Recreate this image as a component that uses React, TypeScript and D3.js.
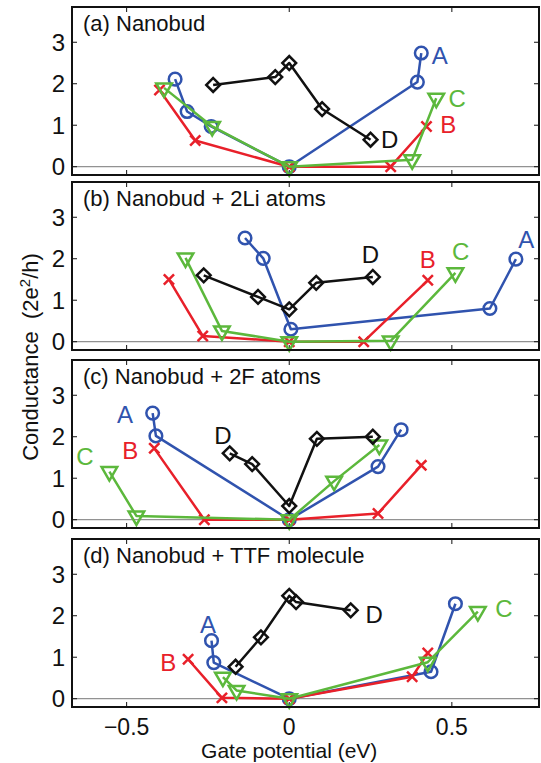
import * as d3 from 'd3'

// gate potential (eV) and conductance (2e^2/h) for the four panels, series A-D
const panelTitles = ['(a) Nanobud', '(b) Nanobud + 2Li atoms', '(c) Nanobud + 2F atoms', '(d) Nanobud + TTF molecule']
const seriesNames = ['A', 'B', 'C', 'D']
const xTicks = [-0.5, 0, 0.5]
const xTickLabels = ['\u22120.5', '0', '0.5']
const yTicks = [0, 1, 2, 3]

// panel (a)
const aX = [-0.351, -0.314, -0.24, 0, 0.394, 0.406]
const aY = [2.11, 1.33, 0.97, 0, 2.04, 2.74]
const bX_a = [-0.399, -0.289, 0, 0.312, 0.422]
const bY_a = [1.85, 0.63, 0, 0.0, 0.97]
const cX_a = [-0.385, -0.237, 0, 0.378, 0.452]
const cY_a = [1.9, 0.97, 0, 0.17, 1.65]
const dX_a = [-0.234, -0.043, 0, 0.101, 0.25]
const dY_a = [1.97, 2.16, 2.5, 1.39, 0.65]

// panel (b)
const aX_b = [-0.136, -0.08, 0.005, 0.617, 0.697]
const aY_b = [2.5, 2.01, 0.3, 0.8, 1.99]
const bX_b = [-0.37, -0.266, 0, 0.229, 0.426]
const bY_b = [1.5, 0.14, 0, 0.0, 1.48]
const cX_b = [-0.319, -0.207, 0, 0.312, 0.511]
const cY_b = [2.02, 0.26, 0, 0.02, 1.66]
const dX_b = [-0.263, -0.096, 0, 0.083, 0.257]
const dY_b = [1.6, 1.08, 0.78, 1.42, 1.56]

// panel (c)
const aX_c = [-0.42, -0.41, 0, 0.273, 0.344]
const aY_c = [2.57, 2.02, 0, 1.28, 2.17]
const bX_c = [-0.415, -0.261, 0, 0.273, 0.406]
const bY_c = [1.72, 0, 0, 0.15, 1.31]
const cX_c = [-0.553, -0.47, 0, 0.138, 0.277]
const cY_c = [1.16, 0.09, 0, 0.93, 1.8]
const dX_c = [-0.183, -0.114, 0, 0.085, 0.257]
const dY_c = [1.6, 1.34, 0.33, 1.95, 2.0]

// panel (d)
const aX_d = [-0.239, -0.232, 0, 0.436, 0.511]
const aY_d = [1.4, 0.87, 0, 0.65, 2.29]
const bX_d = [-0.311, -0.207, 0, 0.378, 0.426]
const bY_d = [0.95, 0.02, 0, 0.53, 1.1]
const cX_d = [-0.204, -0.162, 0, 0.426, 0.58]
const cY_d = [0.52, 0.2, 0, 0.88, 2.1]
const dX_d = [-0.165, -0.087, 0, 0.021, 0.189]
const dY_d = [0.77, 1.48, 2.48, 2.33, 2.13]

// where the A/B/C/D letters sit, per panel
const labelX = [
  [0.463, 0.489, 0.516, 0.309],
  [0.729, 0.426, 0.527, 0.25],
  [-0.505, -0.489, -0.628, -0.204],
  [-0.25, -0.372, 0.66, 0.261],
]
const labelY = [
  [2.68, 1.01, 1.65, 0.65],
  [2.46, 1.98, 2.18, 2.1],
  [2.55, 1.68, 1.52, 2.03],
  [1.8, 0.87, 2.18, 2.04],
]

const panelX = [
  [aX, bX_a, cX_a, dX_a],
  [aX_b, bX_b, cX_b, dX_b],
  [aX_c, bX_c, cX_c, dX_c],
  [aX_d, bX_d, cX_d, dX_d],
]
const panelY = [
  [aY, bY_a, cY_a, dY_a],
  [aY_b, bY_b, cY_b, dY_b],
  [aY_c, bY_c, cY_c, dY_c],
  [aY_d, bY_d, cY_d, dY_d],
]

const colors = ['#3053ae', '#e8202a', '#5cb83c', '#111111']
const font = '"Liberation Sans", Arial, sans-serif'

const W = 541
const H = 763
const left = 72
const right = 539
const panelTops = [7, 182, 360, 539]
const panelH = 168

const x = d3.scaleLinear().domain([-0.668, 0.768]).range([left, right])

const symbols = [
  d3.symbol().type(d3.symbolCircle).size(125),
  d3.symbol().type(d3.symbolTimes).size(70),
  d3.symbol().type(d3.symbolTriangle).size(105),
  d3.symbol().type(d3.symbolSquare).size(95),
]

function Panel({ idx }: { idx: number }) {
  const top = panelTops[idx]
  const y = d3.scaleLinear().domain([-0.2, 3.85]).range([top + panelH, top])
  const tick = 5
  return (
    <g>
      {/* zero reference line */}
      <line x1={left} x2={right} y1={y(0)} y2={y(0)} stroke="#777" strokeWidth={1} />
      {/* ticks */}
      {xTicks.map(t => (
        <g key={'xt' + t}>
          <line x1={x(t)} x2={x(t)} y1={top} y2={top + tick} stroke="#111" strokeWidth={1} />
          <line x1={x(t)} x2={x(t)} y1={top + panelH} y2={top + panelH - tick} stroke="#111" strokeWidth={1} />
        </g>
      ))}
      {yTicks.map(t => (
        <g key={'yt' + t}>
          <line x1={left} x2={left + tick} y1={y(t)} y2={y(t)} stroke="#111" strokeWidth={1} />
          <line x1={right} x2={right - tick} y1={y(t)} y2={y(t)} stroke="#111" strokeWidth={1} />
          <text x={left - 7} y={y(t)} dy="0.36em" textAnchor="end" fontSize={24} fontFamily={font} fill="#111">{t}</text>
        </g>
      ))}
      {/* series */}
      {seriesNames.map((name, s) => {
        const xs = panelX[idx][s]
        const ys = panelY[idx][s]
        const pts: [number, number][] = xs.map((v, i) => [x(v), y(ys[i])])
        const line = d3.line()(pts) || ''
        return (
          <g key={name}>
            <path d={line} fill="none" stroke={colors[s]} strokeWidth={2.5} strokeLinejoin="round" />
            {pts.map((p, i) => (
              <path
                key={i}
                d={symbols[s]() || ''}
                transform={`translate(${p[0]},${p[1]})${s === 2 ? ' rotate(180)' : s === 3 ? ' rotate(45)' : ''}`}
                fill="none"
                stroke={colors[s]}
                strokeWidth={2.5}
              />
            ))}
          </g>
        )
      })}
      {seriesNames.map((name, s) => (
        <text
          key={'lab' + name}
          x={x(labelX[idx][s])}
          y={y(labelY[idx][s])}
          dy="0.36em"
          textAnchor="middle"
          fontSize={24}
          fontFamily={font}
          fill={colors[s]}
        >
          {name}
        </text>
      ))}
      <text x={left + 11} y={top + 24} fontSize={22} fontFamily={font} fill="#111">{panelTitles[idx]}</text>
      {/* frame */}
      <rect x={left} y={top} width={right - left} height={panelH} fill="none" stroke="#111" strokeWidth={2} />
    </g>
  )
}

export default function App() {
  const lastBottom = panelTops[3] + panelH
  return (
    <svg width={W} height={H} style={{ position: 'absolute', left: 0, top: 0, background: '#fff' }}>
      {panelTitles.map((_, i) => <Panel key={i} idx={i} />)}
      {xTicks.map((t, i) => (
        <text key={t} x={x(t)} y={lastBottom + 28} textAnchor="middle" fontSize={23} fontFamily={font} fill="#111">
          {xTickLabels[i]}
        </text>
      ))}
      <text x={x(0)} y={lastBottom + 51} textAnchor="middle" fontSize={21} fontFamily={font} fill="#111">
        Gate potential (eV)
      </text>
      <text
        transform={`translate(38, 357) rotate(-90)`}
        textAnchor="middle"
        fontSize={22}
        fontFamily={font}
        fill="#111"
        style={{ whiteSpace: 'pre' }}
      >
        {'Conductance  (2e'}<tspan baselineShift="super" fontSize={15}>2</tspan>/h)
      </text>
    </svg>
  )
}
